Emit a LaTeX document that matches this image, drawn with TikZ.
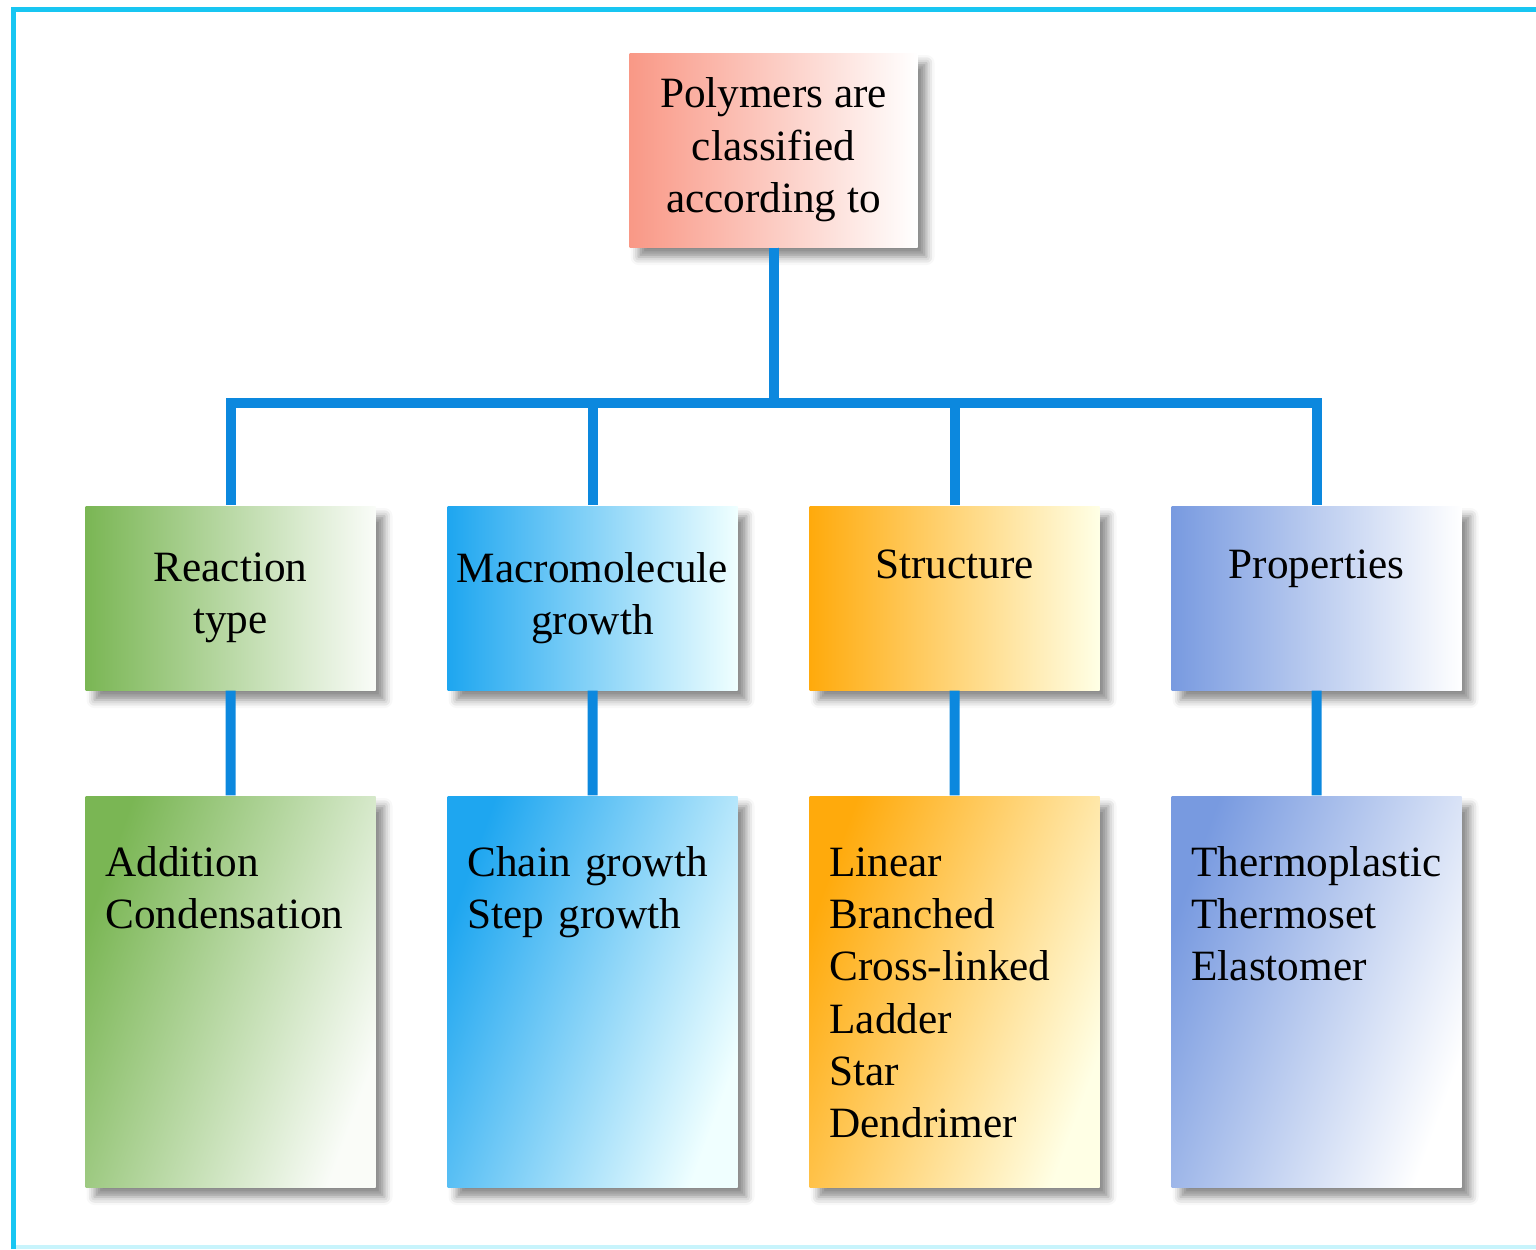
\documentclass[tikz,border=0pt]{standalone}
\usepackage{fontspec}
\setmainfont{Liberation Serif}
\usetikzlibrary{shadows.blur}

\definecolor{linkblue}{RGB}{12,136,222}
\definecolor{framecyan}{RGB}{24,198,242}
\definecolor{framepale}{RGB}{200,244,252}
\definecolor{salmon}{RGB}{249,152,134}
\definecolor{leafgreen}{RGB}{122,182,84}
\definecolor{skyblue}{RGB}{30,166,240}
\definecolor{amber}{RGB}{255,170,12}
\definecolor{periwinkle}{RGB}{120,154,224}

\tikzset{
  box/.style={rectangle, font=\fontsize{12.3}{14.9}\selectfont,
    blur shadow={shadow xshift=0.9mm, shadow yshift=-1mm,
                 shadow blur radius=0.8mm, shadow opacity=45}},
  rootbox/.style={box, minimum width=2.88cm, minimum height=1.94cm,
    align=center, inner sep=1pt},
  catbox/.style={box, minimum width=2.9cm, minimum height=1.84cm,
    align=center, inner sep=1pt},
  listbox/.style={box, text width=2.5cm, inner xsep=0.2cm, inner ysep=0pt,
    align=left, text height=0.8cm, text depth=3.11cm},
  greenfill/.style={left color=leafgreen, right color=leafgreen!4!white},
  bluefill/.style={left color=skyblue, right color=cyan!6!white},
  amberfill/.style={left color=amber, right color=yellow!10!white},
  perifill/.style={left color=periwinkle, right color=white},
}

\begin{document}
\begin{tikzpicture}[level 1/.style={level distance=4.48cm, sibling distance=3.62cm,
                      edge from parent path={(\tikzparentnode.south) -- ++(0,-1.55)
                                             -| (\tikzchildnode.north)}},
                    level 2/.style={level distance=3.935cm,
                      edge from parent path={(\tikzparentnode.south) -- (\tikzchildnode.north)}},
                    edge from parent/.style={draw=linkblue, line width=1mm}]
  \useasboundingbox (0,0) rectangle (15.36,-12.49);

  % frame
  \draw[framepale, line width=0.4mm] (0.13,-12.47) -- (15.36,-12.47);
  \draw[framecyan, line width=0.5mm] (15.36,-0.09) -- (0.13,-0.09) -- (0.13,-12.49);

  \node[rootbox, left color=salmon, right color=white] (root) at (7.735,-1.50)
      {Polymers are\\classified\\according to}
    child {
    node[catbox, greenfill] (reaction) {Reaction\\type}
      child {node[listbox, greenfill, shading angle=70] (reactionlist)
        {Addition\\Condensation}}
    }
    child {
    node[catbox, bluefill] (growth) {Macromolecule\\growth}
      child {node[listbox, bluefill, shading angle=70] (growthlist)
        {Chain growth\\Step growth}}
    }
    child {
    node[catbox, amberfill] (structure) {Structure\\\strut}
      child {node[listbox, amberfill, shading angle=70] (structurelist)
        {Linear\\Branched\\Cross-linked\\Ladder\\Star\\Dendrimer}}
    }
    child {
    node[catbox, perifill] (properties) {Properties\\\strut}
      child {node[listbox, perifill, shading angle=70] (propertieslist)
        {Thermoplastic\\Thermoset\\Elastomer}}
    };
\end{tikzpicture}
\end{document}
